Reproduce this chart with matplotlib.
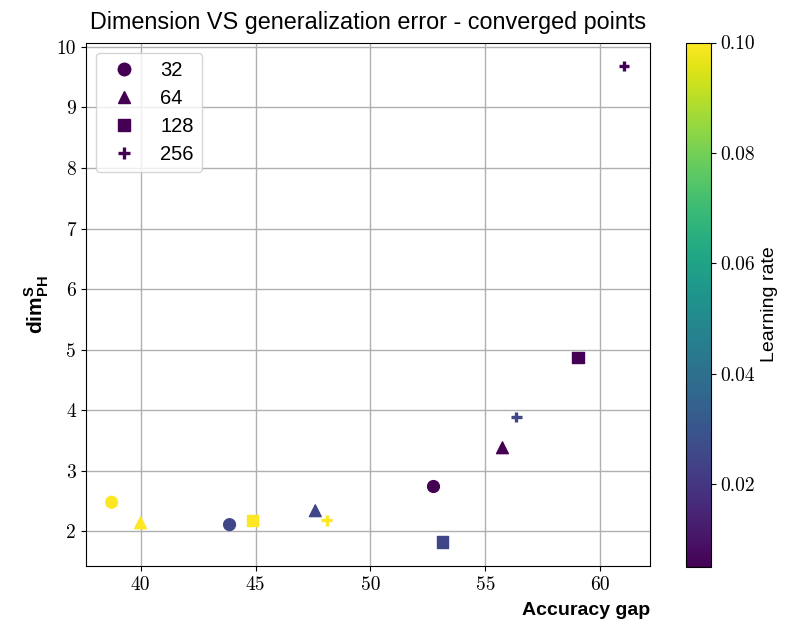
import numpy as np
import matplotlib
matplotlib.use('Agg')
import matplotlib.pyplot as plt
from matplotlib.lines import Line2D

plt.rcParams['font.family'] = ['Liberation Sans', 'DejaVu Sans']
plt.rcParams['mathtext.fontset'] = 'custom'
plt.rcParams['mathtext.bf'] = 'Liberation Sans:bold'
plt.rcParams['mathtext.rm'] = 'Liberation Sans'

# values
batch_sizes = [32, 64, 128, 256]
markers = ['o', '^', 's', '+']
acc_gap = {
    32: [38.74, 43.87, 52.74],
    64: [40.0, 47.6, 55.74],
    128: [44.87, 53.13, 59.04],
    256: [48.09, 56.35, 61.04],
}
dim_ph = {
    32: [2.48, 2.11, 2.74],
    64: [2.14, 2.34, 3.38],
    128: [2.18, 1.82, 4.87],
    256: [2.18, 3.89, 9.68],
}
learning_rate = {
    32: [0.1, 0.025, 0.005],
    64: [0.1, 0.025, 0.005],
    128: [0.1, 0.025, 0.005],
    256: [0.1, 0.025, 0.005],
}
lr_min, lr_max = 0.005, 0.1

fig = plt.figure(figsize=(7.88, 6.27), dpi=100)
ax = fig.add_axes([0.1091, 0.0973, 0.7157, 0.8349])
cax = fig.add_axes([0.870, 0.0962, 0.032, 0.836])

for bs, m in zip(batch_sizes, markers):
    plus = m == '+'
    sc = ax.scatter(acc_gap[bs], dim_ph[bs], c=learning_rate[bs], cmap='viridis',
                    vmin=lr_min, vmax=lr_max, marker=m, s=55 if plus else 72,
                    linewidths=2.4 if plus else 1, zorder=3)

ax.grid(True, color='#b0b0b0', linewidth=1)
ax.set_axisbelow(True)
ax.set_xticks([40, 45, 50, 55, 60])
ax.set_yticks(range(2, 11))
ax.tick_params(labelsize=14, labelfontfamily='cmr10')

ax.set_title('Dimension VS generalization error - converged points',
             fontsize=16.8, pad=10)
ax.set_xlabel('Accuracy gap', fontsize=14, fontweight='bold', loc='right',
              labelpad=6)
ax.set_ylabel(r'$\mathbf{dim}_{\mathbf{PH}}^{\mathbf{S}}$', fontsize=15)

dark = plt.get_cmap('viridis')(0.0)
handles = []
for bs, m in zip(batch_sizes, markers):
    plus = m == '+'
    handles.append(Line2D([], [], linestyle='', marker=m, color=dark,
                          markersize=8 if plus else 9,
                          markeredgewidth=2.4 if plus else 1, label=str(bs)))
ax.legend(handles=handles, loc='upper left', fontsize=14.5, labelspacing=0.45)

cb = fig.colorbar(sc, cax=cax)
cb.set_ticks([0.02, 0.04, 0.06, 0.08, 0.10])
cb.ax.tick_params(labelsize=14, labelfontfamily='cmr10')
cb.set_label('Learning rate', fontsize=14)

fig.savefig('out.png', dpi=100)
